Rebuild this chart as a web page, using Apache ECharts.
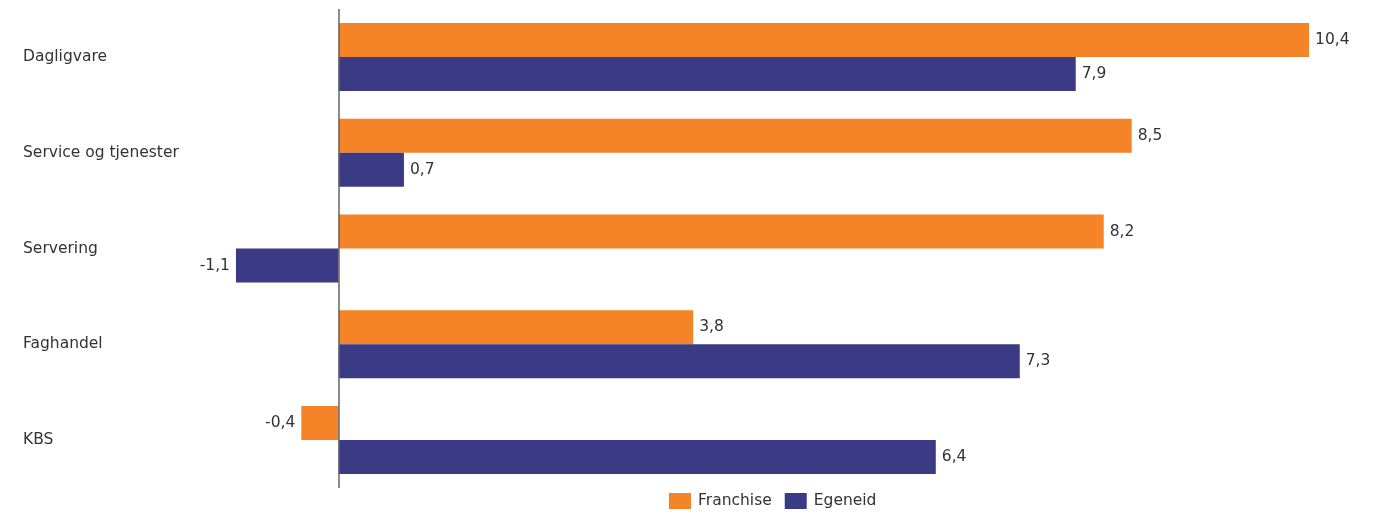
<!DOCTYPE html>
<html>
<head>
<meta charset="utf-8">
<script src="https://cdn.jsdelivr.net/npm/echarts@6/dist/echarts.min.js"></script>
<style>
  html, body { margin: 0; padding: 0; background: #fff; }
  #chart { width: 1377px; height: 514px; }
</style>
</head>
<body>
<div id="chart"></div>
<script>
// Growth by segment, franchise vs. own-operated stores
const categories = ['Dagligvare', 'Service og tjenester', 'Servering', 'Faghandel', 'KBS'];
const franchise = [10.4, 8.5, 8.2, 3.8, -0.4];
const egeneid = [7.9, 0.7, -1.1, 7.3, 6.4];
const seriesNames = ['Franchise', 'Egeneid'];

const ORANGE = '#F58428';
const NAVY = '#3A3B84';
const FONT = '"DejaVu Sans", "Noto Sans", sans-serif';
const FS = 15.5;

const fmt = v => String(v).replace('.', ',');

// labels sit outside the bar end, on whichever side the bar grows
const withLabels = arr => arr.map(v => ({
  value: v,
  label: { position: v < 0 ? 'left' : 'right' }
}));

const valueLabel = {
  show: true,
  distance: 6,
  fontSize: FS,
  color: '#333',
  fontFamily: FONT,
  formatter: p => fmt(p.value)
};

const chart = echarts.init(document.getElementById('chart'));
chart.setOption({
  animation: false,
  textStyle: { fontFamily: FONT },
  grid: { left: 152, right: 12, top: 9, bottom: 26, containLabel: false },
  legend: {
    data: seriesNames,
    left: 669,
    top: 493,
    padding: 0,
    itemWidth: 22,
    itemHeight: 16,
    itemGap: 13,
    icon: 'rect',
    textStyle: { fontSize: FS, color: '#333', fontFamily: FONT, padding: [0, 0, 0, 2] }
  },
  xAxis: {
    type: 'value',
    min: -2,
    max: 11,
    show: false
  },
  yAxis: {
    type: 'category',
    data: categories,
    inverse: true,
    axisLine: { show: false },
    axisTick: { show: false },
    axisLabel: {
      align: 'left',
      margin: 129,
      fontSize: FS,
      color: '#333',
      fontFamily: FONT
    }
  },
  series: [
    {
      name: seriesNames[0],
      type: 'bar',
      data: withLabels(franchise),
      barWidth: 34,
      barGap: '0%',
      itemStyle: { color: ORANGE },
      label: valueLabel,
      markLine: {
        silent: true,
        symbol: 'none',
        label: { show: false },
        lineStyle: { color: '#666', width: 1.5, type: 'solid' },
        data: [{ xAxis: 0 }],
        z: 10
      }
    },
    {
      name: seriesNames[1],
      type: 'bar',
      data: withLabels(egeneid),
      barWidth: 34,
      barGap: '0%',
      itemStyle: { color: NAVY },
      label: valueLabel
    }
  ]
});
</script>
</body>
</html>
